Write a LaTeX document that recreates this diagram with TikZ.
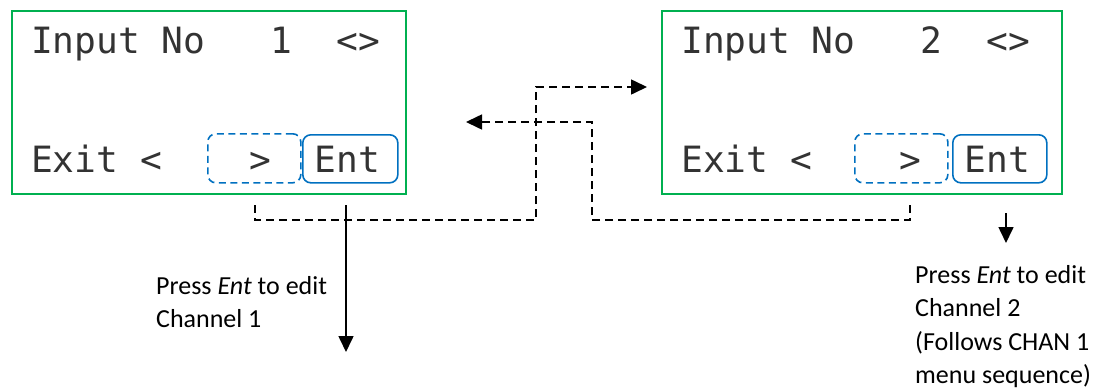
\documentclass[tikz,border=0pt]{standalone}
\usepackage{fontspec}
\setmainfont{Carlito}
\newfontfamily\lcdfont{DejaVu Sans Mono}
\usetikzlibrary{arrows.meta}
\definecolor{lcdgreen}{HTML}{00B050}
\definecolor{keyblue}{HTML}{0070C0}

\begin{document}
\begin{tikzpicture}[x=1pt,y=-1pt,
  lcd/.style={draw=lcdgreen, line width=2pt, inner sep=0pt, anchor=north west},
  softkey/.style={draw=keyblue, line width=1.6pt, dash pattern=on 7pt off 4.5pt,
    rounded corners=8pt, inner sep=0pt, anchor=north west},
  hardkey/.style={draw=keyblue, line width=1.6pt, rounded corners=8pt,
    inner sep=0pt, anchor=north west},
  lcdtext/.style={font=\lcdfont\fontsize{36.2}{40}\selectfont, inner sep=0pt,
    anchor=base west, text=black!80},
  nav/.style={draw, line width=1.6pt, dash pattern=on 8pt off 5pt,
    -{Triangle[length=16pt,width=15pt]}},
  push/.style={draw, line width=1.6pt, -{Triangle[length=16pt,width=15pt]}},
  % the base anchor of a multi-line note sits on its last line
  note/.style={font=\fontsize{26}{33.5}\selectfont, align=left, inner sep=0pt,
    anchor=base west}
]
\useasboundingbox (0,0) rectangle (1097,391);

% Display for input 1
\node[lcd, minimum width=394pt, minimum height=183pt] (lcdA) at (11,10) {};
\node[softkey, minimum width=93pt, minimum height=49pt] (nextA) at (207,133) {};
\node[hardkey, minimum width=95pt, minimum height=48pt] (entA) at (302,134) {};
\node[lcdtext] (topA) at (31,53) {Input No~~~1~~<>};
\node[lcdtext] (botA) at (31,172) {Exit~<~~~~>~~Ent};

% Display for input 2
\node[lcd, minimum width=400pt, minimum height=183pt] (lcdB) at (661,10) {};
\node[softkey, minimum width=93pt, minimum height=49pt] (nextB) at (854,133) {};
\node[hardkey, minimum width=94pt, minimum height=48pt] (entB) at (952,134) {};
\node[lcdtext] (topB) at (681,53) {Input No~~~2~~<>};
\node[lcdtext] (botB) at (681,172) {Exit~<~~~~>~~Ent};

% Navigation between the two inputs
\coordinate (fromA) at (255,205);
\coordinate (toB) at (647,87);
\coordinate (fromB) at (910,205);
\coordinate (toA) at (466,122);
\draw[nav] (fromA) |- (536,220) |- (toB);
\draw[nav] (fromB) |- (592,220) |- (toA);

% Enter actions
\coordinate (entAtop) at (346,205);
\coordinate (entAend) at (346,352);
\coordinate (entBtop) at (1006,213);
\coordinate (entBend) at (1006,243);
\draw[push] (entAtop) -- (entAend);
\draw[push] (entBtop) -- (entBend);

\node[note] (noteA) at (156,327.5) {Press \textit{Ent} to edit\\Channel 1};
\node[note] (noteB) at (915,383.5) {Press \textit{Ent} to edit\\Channel 2\\(Follows CHAN 1\\menu sequence)};
\end{tikzpicture}
\end{document}
